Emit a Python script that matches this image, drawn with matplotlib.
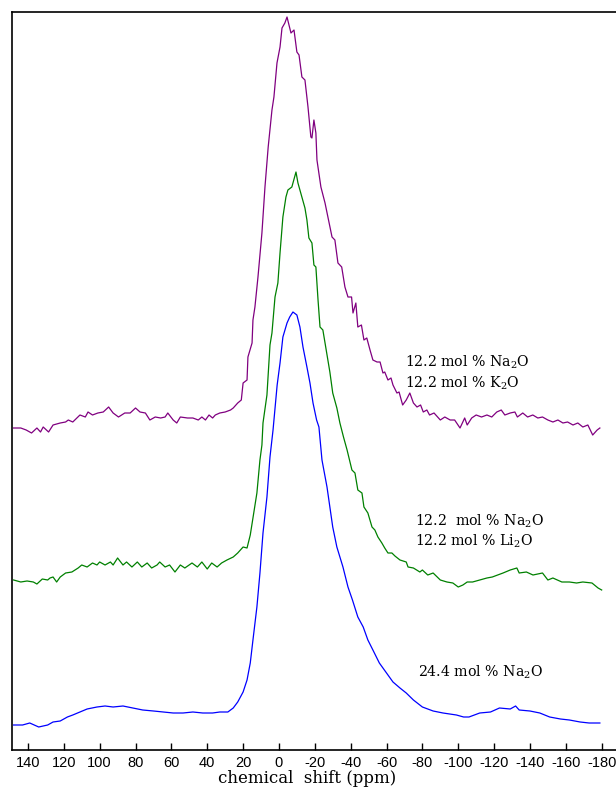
import numpy as np
import matplotlib
matplotlib.use('Agg')
import matplotlib.pyplot as plt

plt.rcParams['font.family'] = 'DejaVu Serif'
plt.rcParams['mathtext.fontset'] = 'dejavuserif'

# 24.4 mol % Na2O (blue), ppm / intensity above its own baseline
blue_ppm = [148, 143, 139, 134, 129, 126, 122, 118, 115, 111, 107, 101.5, 97, 92.5, 87,
            81.5, 76, 70, 64.5, 59, 53.5, 48, 42.5, 37, 33, 28.5, 25.5, 23, 20, 17.8,
            16, 14.5, 12.3, 10.6, 8.9, 6.7, 5, 3.3, 1, -0.6, -2.2, -4.5, -6, -7.8, -10,
            -11.7, -13.4, -15.6, -17.3, -19, -21, -22.3, -24, -26.8, -28.4, -30, -32.3,
            -35.7, -38.5, -41, -44, -47, -49.6, -52.4, -56, -60, -63.6, -67.5, -71, -75,
            -80, -86, -91.5, -99, -103, -106, -112, -118, -123, -129, -132, -134, -140,
            -145.5, -151, -157, -162, -168, -173, -179]
blue_int = [0, 0, 2, -2, 0, 3, 4, 8, 10, 13, 16, 18, 19, 18, 19,
            17, 15, 14, 13, 12, 12, 13, 12, 12, 13, 13, 17, 23, 33, 45,
            62, 85, 118, 152, 192, 228, 268, 295, 340, 362, 388, 402, 408, 413, 410,
            398, 378, 358, 342, 322, 305, 298, 265, 238, 218, 198, 178,
            158, 138, 125, 108, 98, 85, 75, 62, 52, 43, 37, 32, 25,
            18, 14, 12, 10, 8, 8, 12, 13, 17, 16, 19, 15, 14,
            12, 8, 6, 5, 3, 2, 2]

# 12.2 mol % Na2O + 12.2 mol % Li2O (green)
green_ppm = [148, 144, 140.5, 137, 135, 132, 129, 127.7, 126, 124, 122, 119, 115.5, 112,
             110, 107, 104, 101.5, 100, 97, 94, 92.5, 90, 87, 85, 82, 79, 76.5, 73.5, 71,
             68, 66.5, 63.5, 61, 58, 55, 52.5, 48.5, 45.5, 43, 40, 37.5, 34.5, 32, 29,
             25.5, 23, 20, 17.8, 16, 14.5, 12.3, 10.6, 9.5, 8.9, 6.7, 5, 3.9, 2.2, 0.6,
             -0.6, -2.2, -3.9, -5, -7.2, -9.5, -10.6, -12.8, -14.5, -15.6, -16.7, -18.4,
             -19.5, -20.6, -21.8, -22.9, -24.5, -26.8, -28.4, -30, -32.3, -34, -36, -38,
             -40.7, -42.4, -44, -46.3, -47.4, -49.6, -51.9, -53.5, -55.2, -57.4, -59,
             -60.8, -63, -64.7, -67.5, -71, -72, -75, -78.6, -80, -83, -86, -90, -93.7,
             -97, -100, -102.6, -105, -108, -112, -116, -119, -122, -125, -129, -132.7,
             -134, -138, -141.7, -147, -150, -152.8, -157.8, -162, -166, -169.5, -174.6,
             -178, -180]
green_int = [0, -2, -1, -2, -4, 1, 0, 2, 3, -2, 3, 7, 8, 12,
             15, 13, 17, 15, 18, 15, 18, 15, 22, 15, 18, 13, 18, 13, 17, 12,
             15, 18, 13, 15, 8, 15, 12, 17, 13, 18, 11, 17, 13, 17, 20,
             23, 27, 33, 32, 45, 62, 87, 120, 135, 157, 185, 235, 247, 283, 297,
             327, 363, 383, 390, 393, 408, 397, 383, 372, 360, 342, 337,
             315, 313, 280, 253, 250, 225, 208, 187, 172, 157, 143, 130,
             110, 107, 90, 87, 73, 67, 53, 50, 43, 37, 32,
             27, 27, 24, 20, 18, 13, 12, 8, 10, 5, 7, 0, -2,
             -3, -7, -5, -2, -2, 0, 2, 3, 5, 7, 10, 12,
             7, 8, 5, 7, 0, 2, -2, -2, -3, -2, -3,
             -8, -10]

# 12.2 mol % Na2O + 12.2 mol % K2O (purple)
purple_ppm = [148, 144, 141, 138, 135, 133, 131.5, 128.5, 126, 122, 119, 117.5, 115, 111,
              108, 106.5, 104, 101, 98, 95, 92.5, 89.5, 86, 83, 80, 77.5, 74.5, 72, 69,
              66, 63.5, 62, 59, 57, 55, 51, 48, 45, 43, 41, 39, 37, 35.5, 33, 30, 27,
              25.5, 23, 21, 20, 17.8, 17.3, 15, 14.5, 13.4, 11.7, 9.5, 7.8, 6, 3.9, 2.8,
              1.1, -0.6, -1.7, -3.3, -4.5, -5.6, -6.7, -8.4, -10, -11.2, -12.8, -14.5,
              -16.2, -17.8, -18.4, -19.5, -20.6, -21.2, -23.4, -25.7, -27.3, -29.6, -31.2,
              -32.9, -35, -36.8, -38.5, -40.5, -41.3, -42.9, -44, -46, -47.4, -49, -50.8,
              -52.4, -54.7, -56.4, -58, -59, -60.8, -62.5, -63.6, -65.8, -67, -69, -71,
              -73, -75, -77, -79, -80.5, -82.5, -84, -86.5, -90, -92.5, -95.5, -98, -101,
              -103.6, -105, -107.5, -110, -113, -116, -118.7, -121.5, -124, -126, -129,
              -131.6, -133, -136, -138.7, -141.6, -144.4, -147, -150, -152.8, -155.6,
              -158.4, -161, -164, -166.7, -169.5, -172.3, -175, -177.5, -179]
purple_int = [0, 0, -2, -5, 0, -4, 1, -4, 3, 5, 6, 8, 6, 13,
              11, 16, 13, 15, 16, 21, 15, 11, 15, 15, 20, 16, 15, 8, 11,
              10, 11, 15, 8, 5, 11, 10, 10, 8, 11, 8, 13, 10, 13, 15, 16, 18,
              20, 25, 28, 45, 48, 71, 85, 108, 121, 151, 195, 241, 281, 318, 331,
              365, 381, 400, 405, 411, 403, 395, 398, 376, 373, 351, 348,
              321, 291, 290, 308, 295, 268, 241, 225, 211, 191, 188,
              165, 161, 141, 131, 131, 115, 125, 101, 103, 88, 90, 78,
              68, 66, 66, 55, 56, 48, 50, 43, 35, 36, 23, 28,
              35, 25, 21, 23, 16, 18, 13, 15, 8, 11, 8, 8, 0,
              10, 3, 10, 13, 11, 13, 11, 16, 18, 13, 15,
              16, 11, 15, 11, 13, 10, 11, 8, 6, 8,
              5, 6, 3, 5, 1, 3, -7, -2, 0]

series = [
    (blue_ppm, blue_int, 25, 'blue'),
    (green_ppm, green_int, 170, 'green'),
    (purple_ppm, purple_int, 322, 'purple'),
]

ticks = list(range(140, -181, -20))

fig = plt.figure(figsize=(6.16, 7.96), dpi=100)
ax = fig.add_axes([12 / 616, 46 / 796, 604 / 616, 738 / 796])

for ppm, inten, off, col in series:
    ax.plot(ppm, np.array(inten) + off, color=col, lw=0.9)

ax.set_xlim(148.9, -188)
ax.set_ylim(0, 738)
ax.set_xticks(ticks)
ax.set_xticklabels([str(t) for t in ticks], family='Liberation Sans', fontsize=10.5)
ax.set_yticks([])
ax.tick_params(axis='x', direction='in', length=5, width=1, pad=4)
ax.spines['right'].set_visible(False)
for s in ['left', 'top', 'bottom']:
    ax.spines[s].set_linewidth(1.2)
ax.set_xlabel('chemical  shift (ppm)', fontsize=12)
ax.xaxis.set_label_coords(0.488, -0.027)

kw = dict(fontsize=10.2, va='center', ha='left')
ax.text(-70.3, 388, '12.2 mol % Na$_2$O', **kw)
ax.text(-70.3, 367, '12.2 mol % K$_2$O', **kw)
ax.text(-75.8, 229, '12.2  mol % Na$_2$O', **kw)
ax.text(-75.8, 209, '12.2 mol % Li$_2$O', **kw)
ax.text(-77.5, 78, '24.4 mol % Na$_2$O', **kw)

fig.savefig('out.png', dpi=100)
